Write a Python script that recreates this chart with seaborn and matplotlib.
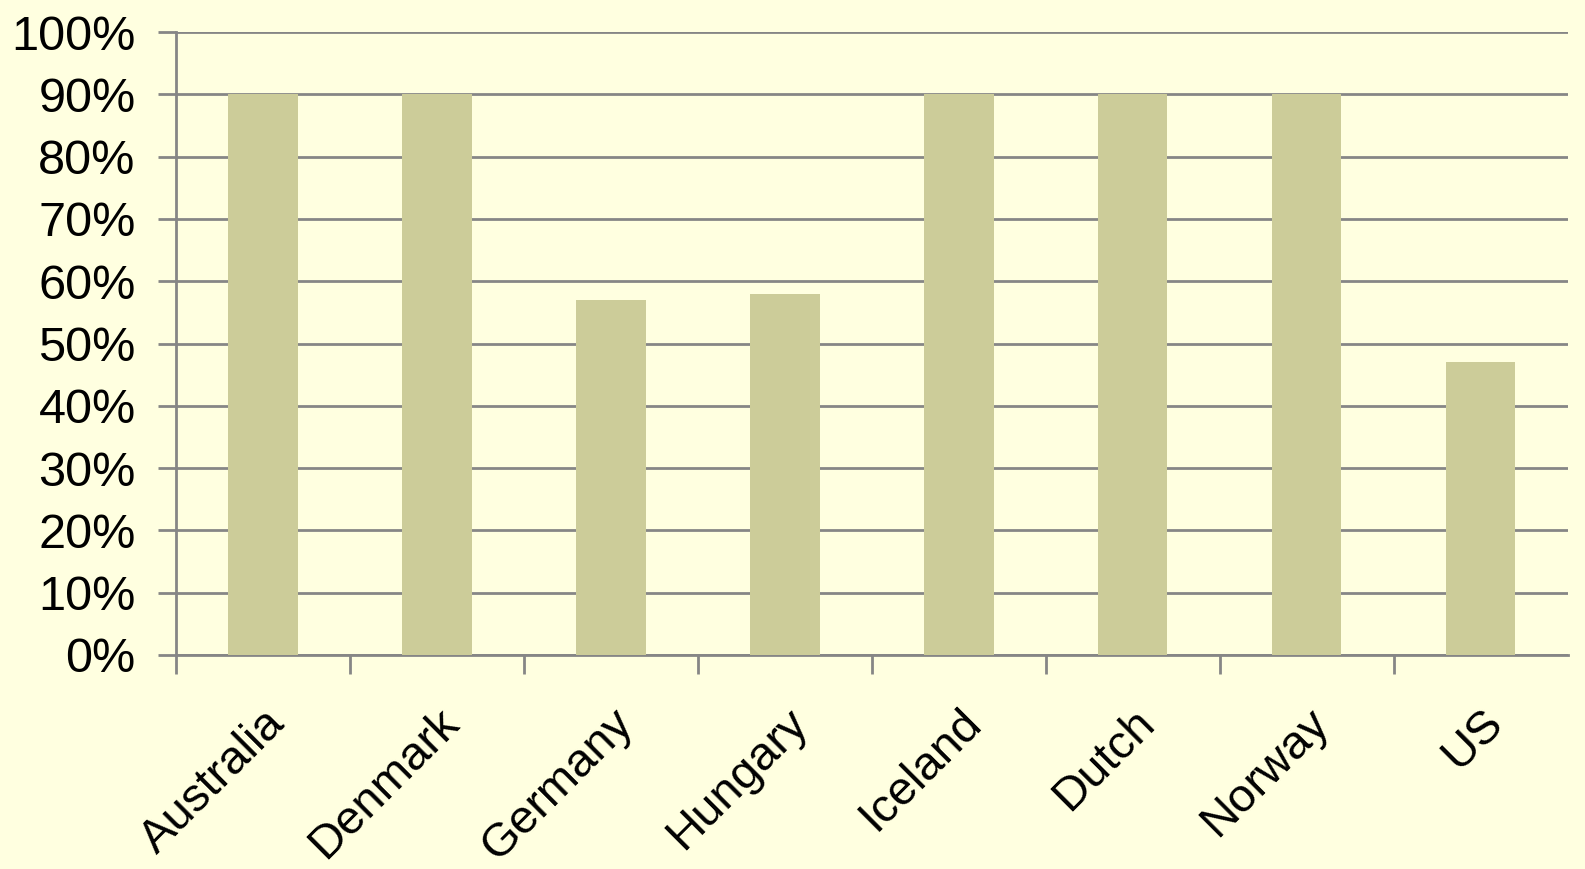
import numpy as np
import pandas as pd
import matplotlib
matplotlib.use("Agg")
import matplotlib.pyplot as plt
import seaborn as sns
from matplotlib.ticker import FixedLocator, PercentFormatter

countries = ["Australia", "Denmark", "Germany", "Hungary", "Iceland", "Dutch", "Norway", "US"]
shares = [90, 90, 57, 58, 90, 90, 90, 47]
y_ticks = list(range(0, 101, 10))

df = pd.DataFrame({"country": countries, "share": shares})

bg = "#FFFFE0"
bar_color = "#CCCC99"
grid_color = "#868686"

sns.set_style("white")
plt.rcParams["font.family"] = ["Liberation Sans", "DejaVu Sans"]
plt.rcParams["text.color"] = "black"

fig = plt.figure(figsize=(15.85, 8.69), dpi=100, facecolor=bg)
ax = fig.add_axes([0.111, 0.2463, 0.878, 0.7167])
ax.set_facecolor(bg)

sns.barplot(data=df, x="country", y="share", color=bar_color, width=0.4,
            saturation=1, linewidth=0, edgecolor="none", ax=ax, zorder=3)

ax.set_ylim(0, 100)
ax.set_xlim(-0.5, len(countries) - 0.5)
ax.set_yticks(y_ticks)
ax.yaxis.set_major_formatter(PercentFormatter(decimals=0))
ax.grid(axis="y", color=grid_color, linewidth=2, zorder=0)
ax.set_axisbelow(True)

# x ticks sit between categories (none at the far right edge)
ax.xaxis.set_minor_locator(FixedLocator(np.arange(-0.5, len(countries) - 1, 1)))
ax.tick_params(axis="x", which="major", bottom=False, length=0, pad=33, labelsize=34,
               labelcolor="black")
ax.tick_params(axis="x", which="minor", bottom=True, length=14, width=2,
               color=grid_color, direction="out")
ax.tick_params(axis="y", left=True, length=13, width=2, color=grid_color, direction="out",
               pad=16, labelsize=35, labelcolor="black")
plt.setp(ax.get_xticklabels(), rotation=45, ha="right", rotation_mode="anchor")

ax.set_xlabel("")
ax.set_ylabel("")
for side in ["top", "right"]:
    ax.spines[side].set_visible(False)
for side in ["left", "bottom"]:
    ax.spines[side].set_color(grid_color)
    ax.spines[side].set_linewidth(2)

fig.savefig("out.png", dpi=100, facecolor=bg)
